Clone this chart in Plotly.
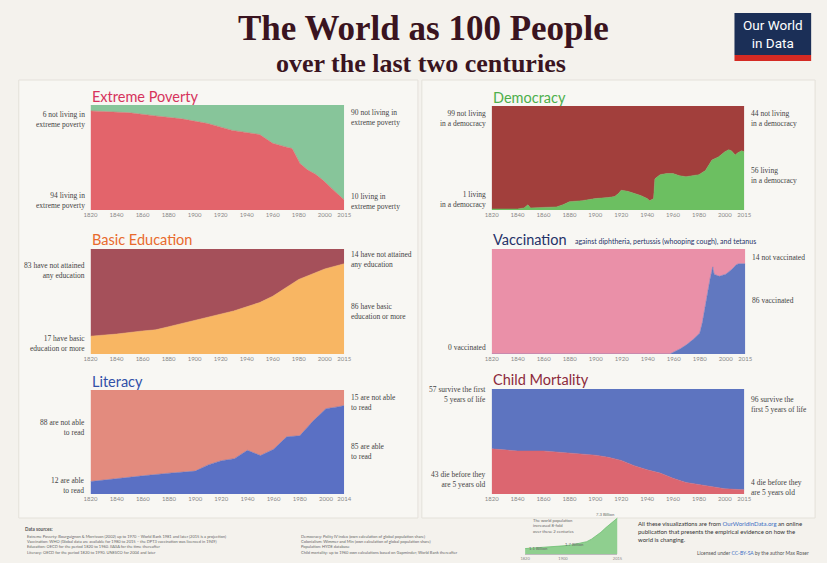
import plotly.graph_objects as go

W, H = 827, 563
def X(px): return px / W
def Y(py): return 1 - py / H

# ---------------- data ----------------
poverty_years = [1820, 1850, 1870, 1890, 1910, 1929, 1950, 1960, 1970, 1975, 1981, 1987, 1993, 1999, 2005, 2010, 2015]
poverty_living = [94.4, 92.6, 89.6, 86.8, 82.4, 75.8, 71.9, 63.5, 60.1, 58.5, 44.3, 38, 34, 28, 21, 15.5, 9.6]

dem_years = [1820, 1830, 1840, 1845, 1848, 1850, 1860, 1870, 1875, 1880, 1890, 1900, 1910, 1915, 1918, 1920, 1925, 1930,
             1935, 1940, 1942, 1945, 1946, 1950, 1955, 1960, 1965, 1970, 1975, 1980, 1985, 1990, 1995, 2000, 2003, 2005,
             2008, 2010, 2013, 2015]
dem_living = [1, 1, 1, 2, 5, 2, 2.5, 3, 5, 8, 9, 11, 12, 13, 16, 19, 18, 16,
              14, 11, 9, 11, 30, 34, 35, 35, 33, 32, 33, 34, 38, 48, 51, 56, 58, 57,
              53, 55, 57, 56]

edu_years = [1820, 1840, 1860, 1870, 1880, 1900, 1920, 1930, 1940, 1950, 1960, 1970, 1980, 1990, 2000, 2015]
edu_basic = [17, 19, 22, 23, 26, 32, 38, 41, 45, 49, 55, 63, 71, 76, 81, 86]

vac_years = [1820, 1957, 1965, 1970, 1975, 1980, 1982, 1984, 1986, 1988, 1990, 1991, 1993, 1995, 2000, 2005, 2008, 2010, 2015]
vac_vaccinated = [0, 0, 5, 9, 14, 20, 30, 45, 60, 72, 83, 76, 75, 74, 76, 81, 85, 86, 86]

lit_years = [1820, 1840, 1860, 1880, 1900, 1910, 1920, 1930, 1940, 1950, 1960, 1970, 1980, 1990, 2000, 2010, 2014]
lit_able = [12, 15, 17.5, 20, 22, 28, 32, 34, 42, 37, 43, 55, 56, 70, 82, 84, 85]

cm_years = [1820, 1840, 1860, 1880, 1900, 1910, 1920, 1930, 1940, 1950, 1960, 1970, 1980, 1990, 2000, 2015]
cm_die = [43, 41, 41, 39, 37, 35, 32, 27, 23, 20, 15, 11, 9, 7, 5, 4]

pop_years = [1820, 1850, 1870, 1900, 1920, 1940, 1950, 1960, 1970, 1980, 1990, 2000, 2010, 2015]
pop_billion = [1.1, 1.26, 1.35, 1.65, 1.86, 2.3, 2.5, 3.0, 3.7, 4.4, 5.3, 6.1, 6.9, 7.3]

tick_years = [1820, 1840, 1860, 1880, 1900, 1920, 1940, 1960, 1980, 2000, 2015]
tick_years_lit = [1820, 1840, 1860, 1880, 1900, 1920, 1940, 1960, 1980, 2000, 2014]

# ---------------- panels ----------------
panels = [
    dict(title="Extreme Poverty", tcolor="#d6335c", years=poverty_years, vals=poverty_living,
         cb="#e3646b", ct="#87c59a", box=(85, 343, 105, 210), ticks=tick_years,
         left_top="6 not living in<br>extreme poverty", left_bot="94 living in<br>extreme poverty",
         right_top="90 not living in<br>extreme poverty", right_bot="10 living in<br>extreme poverty",
         lty=119, lby=200, rty=117, rby=202),
    dict(title="Democracy", tcolor="#4daf4a", years=dem_years, vals=dem_living,
         cb="#6cbf61", ct="#a23f3c", box=(493, 750, 106, 210), ticks=tick_years,
         left_top="99 not living<br>in a democracy", left_bot="1 living<br>in a democracy",
         right_top="44 not living<br>in a democracy", right_bot="56 living<br>in a democracy",
         lty=118, lby=199, rty=118, rby=176),
    dict(title="Basic Education", tcolor="#e86a2c", years=edu_years, vals=edu_basic,
         cb="#f8b663", ct="#a5505a", box=(85, 343, 249, 354), ticks=tick_years,
         left_top="83 have not attained<br>any education", left_bot="17 have basic<br>education or more",
         right_top="14 have not attained<br>any education", right_bot="86 have basic<br>education or more",
         lty=270, lby=343, rty=259, rby=311),
    dict(title="Vaccination", tcolor="#253268", years=vac_years, vals=vac_vaccinated,
         cb="#6178c0", ct="#ea90a8", box=(493, 751, 249, 354), ticks=tick_years,
         left_top=None, left_bot="0 vaccinated",
         right_top="14 not vaccinated", right_bot="86 vaccinated",
         lty=0, lby=354 - 7, rty=257, rby=300),
    dict(title="Literacy", tcolor="#3150a8", years=lit_years, vals=lit_able,
         cb="#5a70c4", ct="#e38b7e", box=(85, 343, 390, 494), ticks=tick_years_lit,
         left_top="88 are not able<br>to read", left_bot="12 are able<br>to read",
         right_top="15 are not able<br>to read", right_bot="85 are able<br>to read",
         lty=427, lby=485, rty=402, rby=451),
    dict(title="Child Mortality", tcolor="#8c2a3c", years=cm_years, vals=cm_die,
         cb="#dc6670", ct="#5d74c0", box=(493, 750, 389, 494), ticks=tick_years,
         left_top="57 survive the first<br>5 years of life", left_bot="43 die before they<br>are 5 years old",
         right_top="96 survive the<br>first 5 years of life", right_bot="4 die before they<br>are 5 years old",
         lty=394, lby=480, rty=405, rby=487),
]

fig = go.Figure()
layout = dict(width=W, height=H, margin=dict(l=0, r=0, t=0, b=0),
              paper_bgcolor="#f4f2ed", plot_bgcolor="rgba(0,0,0,0)", showlegend=False)
shapes, annotations = [], []

# panel backgrounds
for (x0, x1) in [(12, 418), (422, 822)]:
    shapes.append(dict(type="rect", xref="paper", yref="paper", x0=X(x0), x1=X(x1), y0=Y(518), y1=Y(80),
                       fillcolor="#f8f7f3", line=dict(color="#e4e1da", width=1), layer="below"))

side_font = dict(family="Liberation Serif", size=7.5, color="#444")

for i, p in enumerate(panels):
    n = "" if i == 0 else str(i + 1)
    xa, ya = "x" + n, "y" + n
    x0, x1, y0, y1 = p["box"]
    top_vals = [100 - v for v in p["vals"]]
    fig.add_trace(go.Scatter(x=p["years"], y=p["vals"], xaxis=xa, yaxis=ya, stackgroup="g" + str(i),
                             mode="lines", line=dict(width=0.5, color=p["cb"]), fillcolor=p["cb"],
                             hoverinfo="skip"))
    fig.add_trace(go.Scatter(x=p["years"], y=top_vals, xaxis=xa, yaxis=ya, stackgroup="g" + str(i),
                             mode="lines", line=dict(width=0.5, color=p["ct"]), fillcolor=p["ct"],
                             hoverinfo="skip"))
    layout["xaxis" + n] = dict(domain=[X(x0), X(x1)], anchor=ya, range=[p["ticks"][0], p["ticks"][-1]],
                               tickvals=p["ticks"], ticktext=[str(t) for t in p["ticks"]],
                               showgrid=False, zeroline=False, showline=False, ticks="", ticklen=0,
                               tickfont=dict(family="Lato", size=6, color="#888"), fixedrange=True)
    layout["yaxis" + n] = dict(domain=[Y(y1), Y(y0)], anchor=xa, range=[0, 100], visible=False,
                               showgrid=False, zeroline=False, fixedrange=True)
    annotations.append(dict(xref="paper", yref="paper", x=X(x0 - 1), y=Y(y0 - 9), xanchor="left", yanchor="middle",
                            text=p["title"], showarrow=False,
                            font=dict(family="Lato", size=14.5, color=p["tcolor"])))
    if p["left_top"]:
        annotations.append(dict(xref="paper", yref="paper", x=X(x0 - 4), y=Y(p["lty"]), xanchor="right",
                                yanchor="middle", align="right", text=p["left_top"], showarrow=False, font=side_font))
    annotations.append(dict(xref="paper", yref="paper", x=X(x0 - 4), y=Y(p["lby"]), xanchor="right",
                            yanchor="middle", align="right", text=p["left_bot"], showarrow=False, font=side_font))
    annotations.append(dict(xref="paper", yref="paper", x=X(x1 + 5), y=Y(p["rty"]), xanchor="left",
                            yanchor="middle", align="left", text=p["right_top"], showarrow=False, font=side_font))
    annotations.append(dict(xref="paper", yref="paper", x=X(x1 + 5), y=Y(p["rby"]), xanchor="left",
                            yanchor="middle", align="left", text=p["right_bot"], showarrow=False, font=side_font))

# Vaccination subtitle
annotations.append(dict(xref="paper", yref="paper", x=X(576), y=Y(241), xanchor="left", yanchor="middle",
                        text="against diphtheria, pertussis (whooping cough), and tetanus", showarrow=False,
                        font=dict(family="Lato", size=7, color="#253268")))

# ---------------- population mini chart ----------------
k = len(panels) + 1
fig.add_trace(go.Scatter(x=pop_years, y=pop_billion, xaxis="x" + str(k), yaxis="y" + str(k), mode="lines",
                         fill="tozeroy", line=dict(width=0.8, color="#6fbf73"), fillcolor="#8fcf8f",
                         hoverinfo="skip"))
layout["xaxis" + str(k)] = dict(domain=[X(527), X(621)], anchor="y" + str(k), range=[1820, 2015],
                                tickvals=[1820, 1900, 2015], ticktext=["1820", "1900", "2015"],
                                showgrid=False, zeroline=False, showline=True, linecolor="#bbb", linewidth=0.5,
                                ticks="", ticklen=0,
                                tickfont=dict(family="Lato", size=4, color="#888"), fixedrange=True)
layout["yaxis" + str(k)] = dict(domain=[Y(554), Y(517)], anchor="x" + str(k), range=[0, 7.5], visible=False,
                                fixedrange=True)
mini_font = dict(family="Lato", size=4.2, color="#666")
annotations += [
    dict(xref="paper", yref="paper", x=X(533), y=Y(526), xanchor="left", yanchor="middle", align="left",
         text="The world population<br>increased 8-fold<br>over these 2 centuries", showarrow=False, font=mini_font),
    dict(xref="paper", yref="paper", x=X(621), y=Y(514), xanchor="right", yanchor="middle",
         text="7.3 Billion", showarrow=False, font=mini_font),
    dict(xref="paper", yref="paper", x=X(529), y=Y(548), xanchor="left", yanchor="middle",
         text="1.1 Billion", showarrow=False, font=mini_font),
    dict(xref="paper", yref="paper", x=X(566), y=Y(544), xanchor="left", yanchor="middle",
         text="1.7 Billion", showarrow=False, font=mini_font),
]

# ---------------- header ----------------
annotations += [
    dict(xref="paper", yref="paper", x=X(424), y=Y(29), xanchor="center", yanchor="middle",
         text="<b>The World as 100 People</b>", showarrow=False,
         font=dict(family="Liberation Serif", size=35, color="#3a1420")),
    dict(xref="paper", yref="paper", x=X(421), y=Y(64), xanchor="center", yanchor="middle",
         text="<b>over the last two centuries</b>", showarrow=False,
         font=dict(family="Liberation Serif", size=26, color="#3a1420")),
]
shapes.append(dict(type="rect", xref="paper", yref="paper", x0=X(740), x1=X(818), y0=Y(55), y1=Y(13),
                   fillcolor="#1b2f57", line=dict(width=0)))
shapes.append(dict(type="rect", xref="paper", yref="paper", x0=X(740), x1=X(818), y0=Y(61), y1=Y(55),
                   fillcolor="#d42a23", line=dict(width=0)))
annotations.append(dict(xref="paper", yref="paper", x=X(779), y=Y(34), xanchor="center", yanchor="middle",
                        text="Our World<br>in Data", showarrow=False,
                        font=dict(family="Roboto", size=13.5, color="white")))

# ---------------- footer ----------------
src_font = dict(family="Lato", size=4, color="#666")
annotations.append(dict(xref="paper", yref="paper", x=X(16), y=Y(529), xanchor="left", yanchor="middle",
                        text="<b>Data sources:</b>", showarrow=False, font=dict(family="Lato", size=4.6, color="#555")))
left_src = ("Extreme Poverty: Bourguignon & Morrisson (2002) up to 1970 – World Bank 1981 and later (2015 is a projection)<br>"
            "Vaccination: WHO (Global data are available for 1980 to 2015 – the DPT3 vaccination was licenced in 1949)<br>"
            "Education: OECD for the period 1820 to 1960. IIASA for the time thereafter<br>"
            "Literacy: OECD for the period 1820 to 1990. UNESCO for 2004 and later")
right_src = ("Democracy: Polity IV index (own calculation of global population share)<br>"
             "Colonialism: Wimmer and Min (own calculation of global population share)<br>"
             "Population: HYDE database<br>"
             "Child mortality: up to 1960 own calculations based on Gapminder; World Bank thereafter")
annotations.append(dict(xref="paper", yref="paper", x=X(18), y=Y(532), xanchor="left", yanchor="top",
                        align="left", text=left_src, showarrow=False, font=src_font))
annotations.append(dict(xref="paper", yref="paper", x=X(297), y=Y(532), xanchor="left", yanchor="top",
                        align="left", text=right_src, showarrow=False, font=src_font))
annotations.append(dict(xref="paper", yref="paper", x=X(640), y=Y(531), xanchor="left", yanchor="middle",
                        align="left",
                        text=("All these visualizations are from <span style='color:#3b6fc4'>OurWorldInData.org</span> an online<br>"
                              "publication that presents the empirical evidence on how the<br>world is changing."),
                        showarrow=False, font=dict(family="Lato", size=6, color="#333")))
annotations.append(dict(xref="paper", yref="paper", x=X(818), y=Y(553), xanchor="right", yanchor="middle",
                        text="Licensed under <span style='color:#3b6fc4'>CC-BY-SA</span> by the author Max Roser",
                        showarrow=False, font=dict(family="Lato", size=5, color="#555")))

layout["shapes"] = shapes
layout["annotations"] = annotations
fig.update_layout(**layout)
fig.write_html("out.html", config={"displayModeBar": False},
               post_script="document.body.style.margin='0';document.body.style.overflow='hidden';")
